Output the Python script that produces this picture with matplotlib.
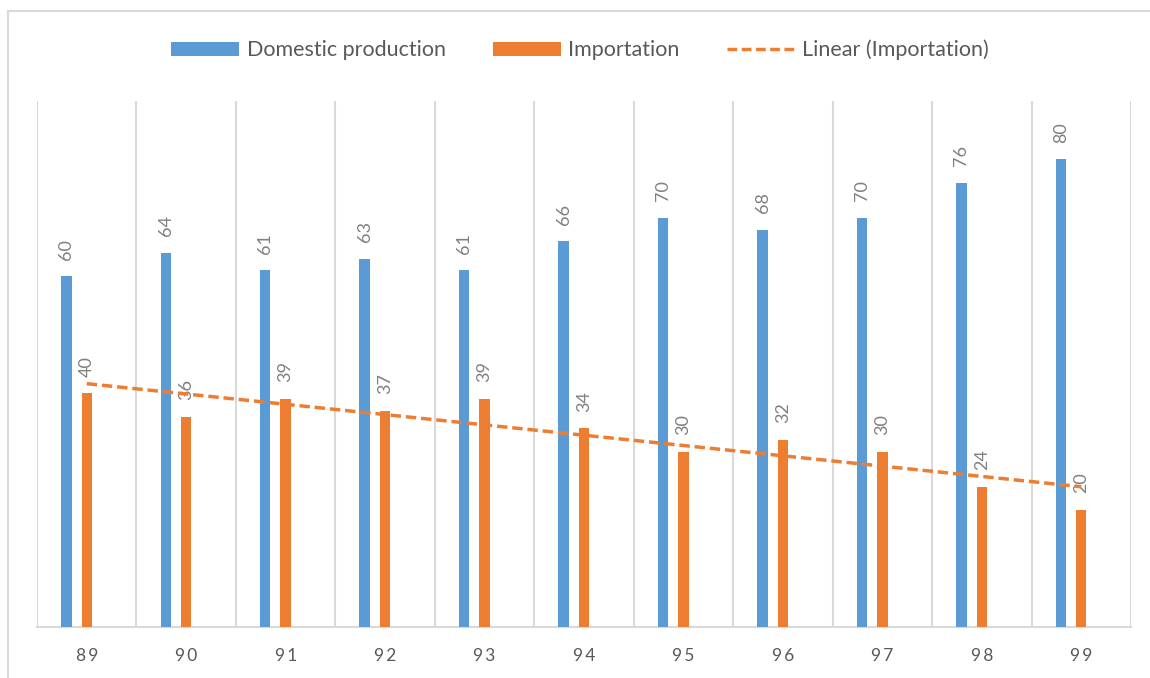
import numpy as np
import matplotlib
matplotlib.use("Agg")
import matplotlib.pyplot as plt
from matplotlib.lines import Line2D
from matplotlib.patches import Patch

years = ["89", "90", "91", "92", "93", "94", "95", "96", "97", "98", "99"]
domestic = [60, 64, 61, 63, 61, 66, 70, 68, 70, 76, 80]
importation = [40, 36, 39, 37, 39, 34, 30, 32, 30, 24, 20]

BLUE = "#5B9BD5"
ORANGE = "#ED7D31"
GRID = "#D9D9D9"
TEXT = "#595959"
LABEL = "#808080"

plt.rcParams["font.family"] = ["Lato", "DejaVu Sans"]

W, H = 1150, 678
fig = plt.figure(figsize=(W / 100, H / 100), dpi=100)

# chart-area border (left and top edges visible)
fig.add_artist(Line2D([8 / W, 8 / W], [0, 1 - 11 / H], transform=fig.transFigure,
                      color=GRID, lw=1.5))
fig.add_artist(Line2D([8 / W, 1], [1 - 11 / H, 1 - 11 / H], transform=fig.transFigure,
                      color=GRID, lw=1.5))

left, right = 37 / W, 1131 / W
bottom, top = 1 - 627 / H, 1 - 101 / H
ax = fig.add_axes([left, bottom, right - left, top - bottom])

x = np.arange(len(years))
bw = 0.105
b1 = ax.bar(x - 0.205, domestic, bw, color=BLUE, zorder=3)
b2 = ax.bar(x, importation, bw, color=ORANGE, zorder=3)

for bars, vals in ((b1, domestic), (b2, importation)):
    for rect, v in zip(bars, vals):
        ax.annotate(str(v), (rect.get_x() + rect.get_width() / 2, v),
                    xytext=(0, 12), textcoords="offset points",
                    rotation=90, ha="center", va="bottom",
                    fontsize=13, color=LABEL, zorder=4)

# linear trend of importation
coef = np.polyfit(x + 1, importation, 1)
trend = np.polyval(coef, x + 1)
ax.plot(x, trend, color=ORANGE, lw=2.5, dashes=(3, 1.4), zorder=5)

ax.set_xlim(-0.5, len(years) - 0.5)
ax.set_ylim(0, 90)
for b in np.arange(-0.5, len(years), 1.0):
    ax.axvline(b, color=GRID, lw=1.5, zorder=1)
for s in ("top", "right", "left"):
    ax.spines[s].set_visible(False)
ax.spines["bottom"].set_color(GRID)
ax.spines["bottom"].set_linewidth(1.5)
ax.set_yticks([])
ax.set_xticks(x)
ax.set_xticklabels(["\u2009".join(y) for y in years], fontsize=12.5, color=TEXT)
ax.tick_params(axis="x", length=0, pad=15)

handles = [Patch(facecolor=BLUE), Patch(facecolor=ORANGE),
           Line2D([], [], color=ORANGE, lw=2.5, dashes=(2.8, 1.3))]
fig.legend(handles, ["Domestic production", "Importation", "Linear (Importation)"],
           loc="center", bbox_to_anchor=(580 / W, 1 - 50 / H), ncol=3,
           frameon=False, fontsize=15.5, labelcolor=TEXT,
           handlelength=3.16, handleheight=0.65, handletextpad=0.33,
           columnspacing=2.2)

fig.savefig("out.png", dpi=100)
